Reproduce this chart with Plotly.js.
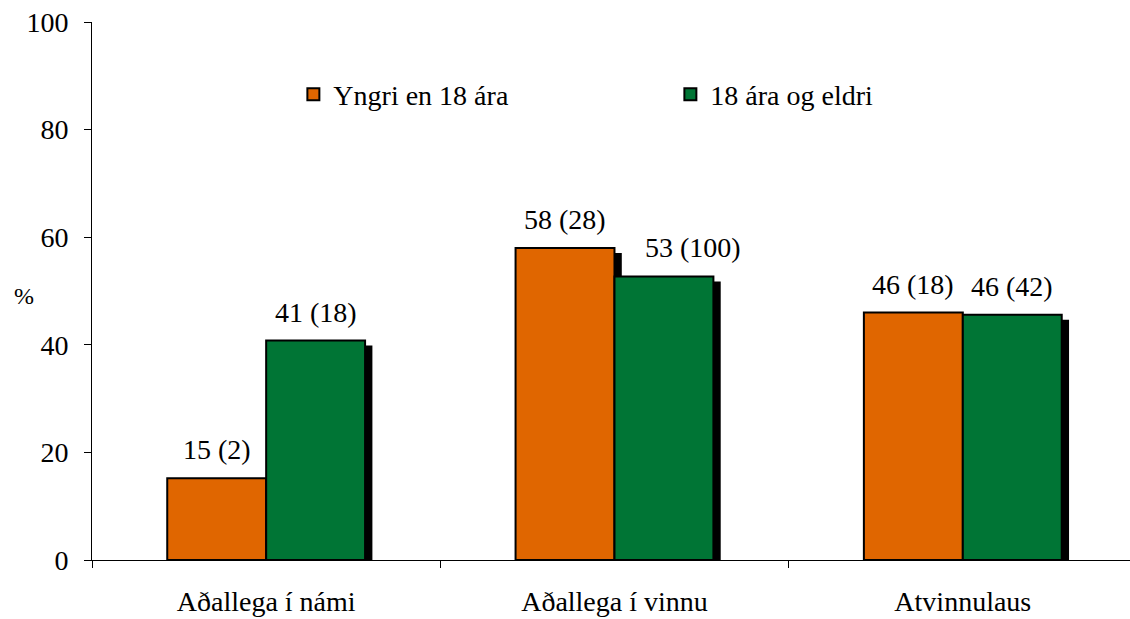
<!DOCTYPE html>
<html>
<head>
<meta charset="utf-8">
<script src="https://cdn.plot.ly/plotly-3.0.1.min.js"></script>
<style>html,body{margin:0;padding:0;background:#fff;}#chart{width:1130px;height:619px;}</style>
</head>
<body>
<div id="chart"></div>
<script>
const categories = ["Aðallega í námi", "Aðallega í vinnu", "Atvinnulaus"];
const seriesNames = ["Yngri en 18 ára", "18 ára og eldri"];
const youngerPct = [15.2, 58.0, 46.0];
const youngerN = [2, 28, 18];
const olderPct = [40.8, 52.7, 45.6];
const olderN = [18, 100, 42];
const yTicks = [0, 20, 40, 60, 80, 100];

const FAM = "Liberation Serif";
const colors = ["#E06600", "#007535"];
const barW = 0.284;
const shadowDx = 0.021;
const shadowDy = 0.95;

const series = [
  {name: seriesNames[0], y: youngerPct, n: youngerN, off: -barW, color: colors[0], lblShift: [0, 0, 0]},
  {name: seriesNames[1], y: olderPct, n: olderN, off: 0, color: colors[1], lblShift: [0, 29, 0]}
];

const traces = [];
series.forEach(s => {
  traces.push({
    type: "bar", x: categories, y: s.y.map(v => v - shadowDy),
    width: barW, offset: s.off + shadowDx,
    marker: {color: "#000", line: {width: 0}},
    showlegend: false, hoverinfo: "skip"
  });
});
series.forEach(s => {
  traces.push({
    type: "bar", name: s.name, x: categories, y: s.y,
    width: barW, offset: s.off,
    marker: {color: s.color, line: {color: "#000", width: 2}}
  });
});

const annotations = [];
series.forEach(s => {
  s.y.forEach((v, i) => {
    annotations.push({
      x: i + s.off + barW / 2, y: v, xref: "x", yref: "y",
      text: Math.round(v) + " (" + s.n[i] + ")",
      showarrow: false, xanchor: "center", yanchor: "bottom",
      yshift: 11, xshift: s.lblShift[i],
      font: {family: FAM, size: 28, color: "#000"}
    });
  });
});
annotations.push({
  text: "%", xref: "paper", yref: "paper", x: -0.077, y: 0.49,
  xanchor: "left", yanchor: "middle",
  showarrow: false, font: {family: FAM, size: 24, color: "#000"}
});

const layout = {
  width: 1130, height: 619,
  margin: {l: 92, r: 0, t: 22, b: 59},
  paper_bgcolor: "#fff", plot_bgcolor: "#fff",
  barmode: "overlay",
  font: {family: FAM, size: 28, color: "#000"},
  xaxis: {
    type: "category", range: [-0.5, 2.48],
    showline: true, linecolor: "#000", linewidth: 1,
    ticks: "outside", tickson: "boundaries", ticklen: 7, tickcolor: "#000",
    ticklabelstandoff: 16,
    showgrid: false, zeroline: false,
    tickfont: {family: FAM, size: 28, color: "#000"}
  },
  yaxis: {
    range: [0, 100], tickvals: yTicks,
    showline: true, linecolor: "#000", linewidth: 1,
    ticks: "outside", ticklen: 7, tickcolor: "#000",
    ticklabelstandoff: 10,
    showgrid: false, zeroline: false,
    tickfont: {family: FAM, size: 28, color: "#000"}
  },
  legend: {
    orientation: "h", x: 0.194, y: 0.865, xanchor: "left", yanchor: "middle",
    entrywidth: 332, entrywidthmode: "pixels", itemwidth: 30,
    font: {family: FAM, size: 28, color: "#000"},
    bgcolor: "rgba(0,0,0,0)"
  },
  annotations: annotations
};

Plotly.newPlot("chart", traces, layout, {displayModeBar: false});
</script>
</body>
</html>
